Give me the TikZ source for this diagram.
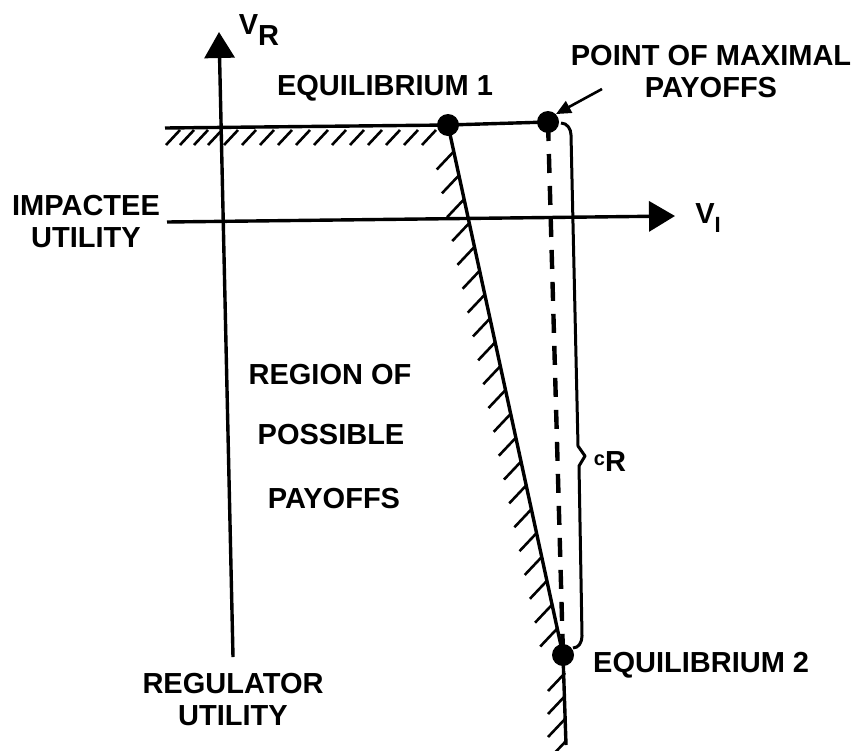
\documentclass[tikz,border=0pt]{standalone}
\usepackage{fontspec}
\setmainfont{Liberation Sans}
\usetikzlibrary{arrows.meta,calc}
\begin{document}
\begin{tikzpicture}[x=1pt,y=-1pt,
  line/.style={line width=3.4pt},
  hatch/.style={line width=2.6pt},
  lbl/.style={inner sep=0pt,font=\fontsize{29}{32}\selectfont\bfseries,align=center},
  dot/.style={circle,fill=black,inner sep=0pt,minimum size=22pt},
  ax/.style={line width=3.4pt,-{Triangle[length=26pt,width=30pt]}}]
\useasboundingbox (0,0) rectangle (858,750);
% axes
\coordinate (vrb) at (233,657);
\coordinate (vrt) at (219,32);
\draw[ax] (vrb) -- (vrt);
\coordinate (vil) at (167,222);
\coordinate (vir) at (675,216);
\draw[ax] (vil) -- (vir);
% points
\node[dot] (e1) at (448,125) {};
\node[dot] (mp) at (548,122) {};
\node[dot] (e2) at (563,655) {};
\coordinate (tl) at (165,128);
\coordinate (bot) at (566,745);
\draw[line] (tl) -- (e1.center) -- (mp.center);
\draw[line] (e1.center) -- (e2.center) -- (bot);
\draw[line width=4.4pt,dash pattern=on 19pt off 13pt] (mp.center) -- (e2.center);
% hatching top
\foreach \x in {180,194,208,222,238,256,274,292,310,328,346,364,382,400,418,436}
  \draw[hatch] (\x,130) -- ++(-14,15);
% hatching slanted
\foreach \t in {0.05,0.095,0.14,0.185,0.23,0.275,0.32,0.365,0.41,0.455,0.50,0.545,0.59,0.635,0.68,0.725,0.77,0.815,0.86,0.905,0.95}
  \draw[hatch] ($(e1.center)!\t!(e2.center)$) -- ++(-17,18);
\foreach \y in {673,696,719,742}
  \draw[hatch] (565,\y) -- ++(-17,18);
% brace
\coordinate (b1) at (561,123);
\coordinate (b2) at (583,648);
\draw[line width=3pt,line join=round]
  (b1) to[out=0,in=90] (571,135) -- (578,446) -- (585,456) -- (579,466) -- (582,636) to[out=-90,in=0] (573,648);
% arrow to max point
\coordinate (pa) at (602,89);
\draw[line width=2.6pt,-{Triangle[length=15pt,width=13pt]}] (pa) -- (mp.north east);
% labels
\node[lbl] (vr) at (259,30) {V\raisebox{-11pt}{R}};
\node[lbl] (vi) at (708,218) {V\raisebox{-9pt}{\fontsize{22}{24}\selectfont I}};
\node[lbl] (t1) at (385,88) {EQUILIBRIUM 1};
\node[lbl] (t2) at (711,72) {POINT OF MAXIMAL\\PAYOFFS};
\node[lbl] (t3) at (86,222) {IMPACTEE\\UTILITY};
\node[lbl] (t4) at (330,375) {REGION OF};
\node[lbl] (t5) at (331,435) {POSSIBLE};
\node[lbl] (t6) at (334,499) {PAYOFFS};
\node[lbl] (t7) at (233,700) {REGULATOR\\UTILITY};
\node[lbl,anchor=west] (t8) at (593,665) {EQUILIBRIUM 2};
\node[lbl] (cr) at (610,462) {\raisebox{6pt}{\fontsize{20}{22}\selectfont c}R};
\end{tikzpicture}
\end{document}
